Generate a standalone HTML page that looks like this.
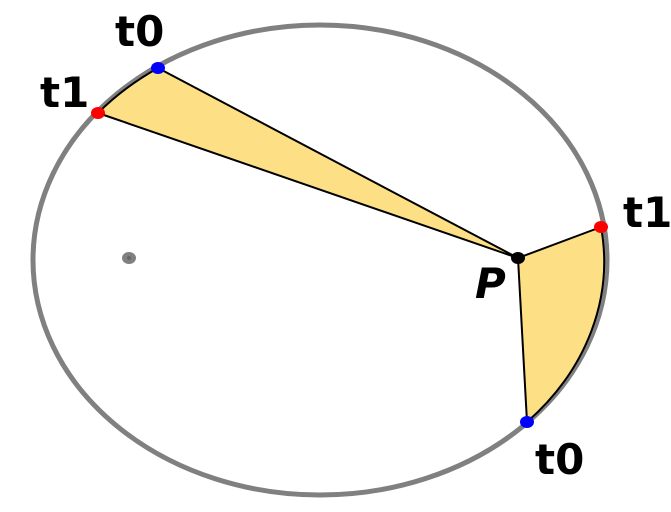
<!DOCTYPE html>
<html><head><style>html,body{margin:0;padding:0;background:#fff;}svg{display:block}</style></head>
<body>
<svg width="671" height="512" viewBox="0 0 671 512" xmlns="http://www.w3.org/2000/svg">
<ellipse cx="320" cy="260" rx="287" ry="235" fill="none" stroke="#808080" stroke-width="5"/>
<path d="M518,258 L601,227 A287,235 0 0 1 527,422 Z" fill="#fde085" stroke="#000" stroke-width="2" stroke-linejoin="round"/>
<path d="M518,258 L98,113 A287,235 0 0 1 158,68 Z" fill="#fde085" stroke="#000" stroke-width="2" stroke-linejoin="round"/>
<ellipse cx="129" cy="258" rx="7" ry="6" fill="#808080"/>
<circle cx="129" cy="258" r="2" fill="#666"/>
<ellipse cx="158" cy="68" rx="7" ry="6" fill="#0000ff"/>
<ellipse cx="98" cy="113" rx="7" ry="6" fill="#ff0000"/>
<ellipse cx="601" cy="227" rx="7" ry="6" fill="#ff0000"/>
<ellipse cx="527" cy="422" rx="7" ry="6" fill="#0000ff"/>
<ellipse cx="518" cy="258" rx="7" ry="6" fill="#000"/>
<g font-family="DejaVu Sans, Liberation Sans, sans-serif" font-weight="bold" font-size="42" fill="#000">
<text x="115" y="46">t0</text>
<text x="40" y="107">t1</text>
<text x="623" y="227">t1</text>
<text x="535" y="474">t0</text>
<text x="475" y="298" font-style="italic">P</text>
</g>
</svg>
</body></html>
